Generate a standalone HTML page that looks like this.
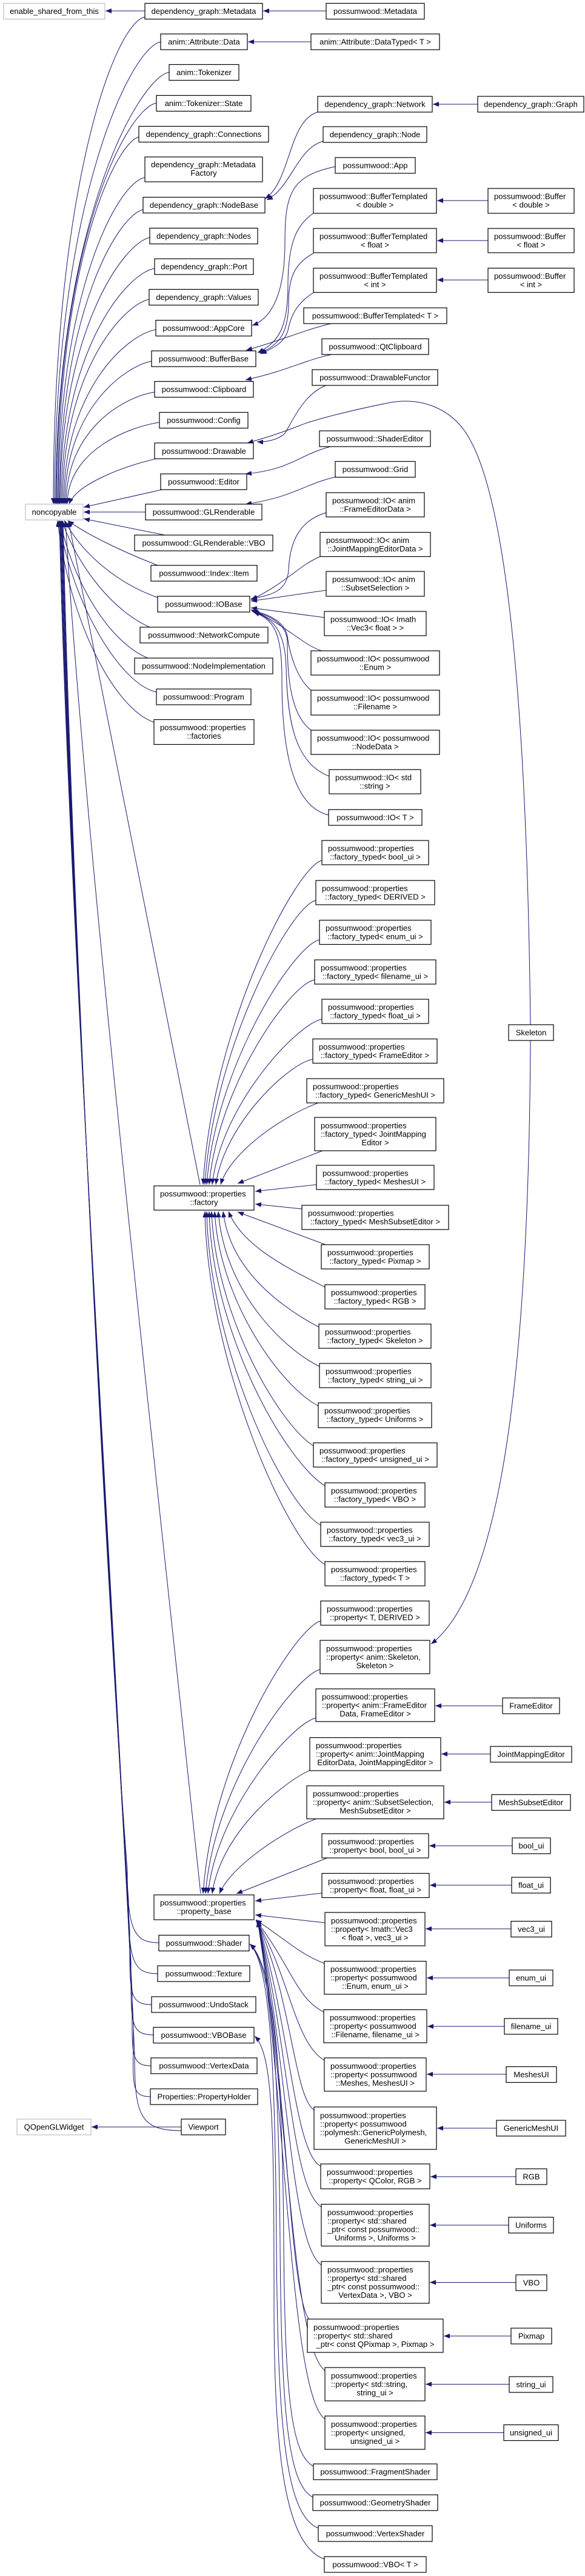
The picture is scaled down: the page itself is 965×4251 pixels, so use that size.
<!DOCTYPE html>
<html><head><meta charset="utf-8"><style>
html,body{margin:0;padding:0;background:#fff}
svg{display:block}
text{font-family:"Liberation Sans",Arial,sans-serif;font-size:13px;fill:#000}
.b rect{fill:#fff;stroke:#000;stroke-width:1.2}
.g rect{fill:#fff;stroke:#bfbfbf;stroke-width:1.2}
.c{text-anchor:middle}
.e path{fill:none;stroke:#191970;stroke-width:1}
</style></head><body>
<svg width="965" height="4251" viewBox="0 0 965 4251" xmlns="http://www.w3.org/2000/svg">
<defs><marker id="a" viewBox="0 0 10 8" refX="10" refY="4" markerWidth="10" markerHeight="8" markerUnits="userSpaceOnUse" orient="auto"><path d="M0,0L10,4L0,8z" fill="#191970"/></marker></defs>

<g class="e" marker-end="url(#a)">
<!-- top horizontal -->
<path d="M239,18L174,18"/><path d="M538,18L434,18"/><path d="M513,69L409,69"/><path d="M788,172L714,172"/>
<path d="M805,331L721,331"/><path d="M805,397L721,397"/><path d="M805,462L721,462"/>
<!-- to noncopyable above -->
<path d="M239,28 C189,38 88,311 88,832"/>
<path d="M265,69 C215,79 90,336 90,832"/>
<path d="M279,119 C229,129 92,369 92,832"/>
<path d="M258,170 C208,180 93,402 93,832"/>
<path d="M229,226 C190,236 95,435 95,832"/>
<path d="M239,293 C195,300 96,480 96,832"/>
<path d="M236,346 C195,355 98,515 98,832"/>
<path d="M247,392 C205,400 99,544 99,832"/>
<path d="M255,443 C210,450 101,577 101,832"/>
<path d="M246,494 C205,502 103,610 103,832"/>
<path d="M257,544 C210,552 105,643 105,832"/>
<path d="M250,596 C205,605 107,676 107,832"/>
<path d="M255,647 C205,655 109,708 109,832"/>
<path d="M263,697 C210,705 111,745 111,832"/>
<path d="M262,756 C200,770 125,800 114,832"/>
<path d="M272,807 L138,837"/>
<path d="M240,845 L138,845"/>
<path d="M272,883 L138,856"/>
<path d="M263,934 C200,910 140,880 112,859"/>
<path d="M260,986 C200,965 140,920 106,859"/>
<path d="M247,1035 C190,1010 130,940 102,859"/>
<path d="M244,1086 C180,1060 120,960 99,859"/>
<path d="M258,1142 C200,1130 120,1000 97,859"/>
<path d="M254,1192 C190,1170 115,1030 95,859"/>
<path d="M330,1955 L113,860"/>
<path d="M331,3125 C260,2450 140,1400 108,860"/>
<!-- lower bundle -->
<path d="M262,3206 C222,3206 210,3186 210,3086 C180,2700 118,1500 104,860"/>
<path d="M260,3257 C220,3257 212,3237 212,3137 C182,2700 117,1500 103,860"/>
<path d="M250,3308 C212,3308 214,3288 214,3188 C184,2700 116,1500 102,860"/>
<path d="M253,3358 C214,3358 216,3338 216,3238 C186,2700 115,1500 101,860"/>
<path d="M249,3409 C214,3409 218,3389 218,3289 C188,2700 114,1500 100,860"/>
<path d="M248,3460 C214,3460 220,3440 220,3340 C190,2700 113,1500 99,860"/>
<path d="M299,3516 C230,3516 222,3490 222,3390 C192,2700 112,1500 98,860"/>
<path d="M299,3510 L151,3510"/>
<!-- NodeBase, AppCore, BufferBase ... -->
<path d="M524,185 C475,200 480,300 437,328"/>
<path d="M533,233 C490,245 480,310 440,330"/>
<path d="M553,275 C480,290 470,320 470,400 C470,480 450,525 416,537"/>
<path d="M517,352 C490,370 475,400 475,470 C475,540 460,565 425,582"/>
<path d="M517,418 C485,435 476,460 476,500 C476,550 460,570 428,583"/>
<path d="M517,483 C490,500 480,520 475,545 C470,565 450,575 430,584"/>
<path d="M546,534 C500,545 470,560 406,578"/>
<path d="M547,585 C500,595 480,610 405,627"/>
<path d="M538,636 C500,650 480,700 470,715 C460,725 440,730 424,729"/>
<path d="M875,1691 C870,1250 845,850 775,725 C745,670 690,655 640,665 C580,677 520,692 495,702 C470,712 440,722 408,731"/>
<path d="M545,737 C490,752 480,775 405,782"/>
<path d="M553,787 C500,800 485,820 405,832"/>
<!-- IO -->
<path d="M538,846 C490,860 478,900 476,940 C474,975 450,982 414,988"/>
<path d="M529,918 C490,935 475,960 414,990"/>
<path d="M538,974 L414,992"/>
<path d="M535,1019 L414,1003"/>
<path d="M531,1074 C500,1065 470,1030 414,1006"/>
<path d="M513,1139 C490,1120 478,1080 474,1050 C470,1025 440,1012 415,1008"/>
<path d="M513,1205 C480,1180 474,1120 474,1060 C474,1030 445,1015 416,1009"/>
<path d="M543,1281 C490,1260 474,1200 472,1100 C470,1040 450,1020 417,1009"/>
<path d="M542,1345 C480,1330 465,1230 465,1120 C465,1040 450,1022 418,1010"/>
<!-- factory -->
<path d="M531,1420 C491,1427 350,1691 335,1955"/>
<path d="M521,1486 C481,1493 353,1724 338,1955"/>
<path d="M527,1551 C487,1558 356,1756 341,1955"/>
<path d="M519,1617 C479,1624 360,1790 345,1955"/>
<path d="M531,1682 C491,1689 365,1822 350,1955"/>
<path d="M516,1748 C476,1755 370,1855 356,1955"/>
<path d="M525,1820 C470,1840 380,1900 364,1955"/>
<path d="M532,1899 L392,1953"/>
<path d="M522,1955 L421,1966"/>
<path d="M498,1995 L421,1987"/>
<path d="M537,2054 L392,2000"/>
<path d="M536,2124 C490,2100 400,2060 377,1999"/>
<path d="M526,2190 C470,2160 380,2100 368,1999"/>
<path d="M527,2255 C466,2225 370,2130 360,1999"/>
<path d="M525,2320 C466,2290 362,2150 354,1999"/>
<path d="M517,2386 C460,2350 355,2170 349,1999"/>
<path d="M536,2452 C470,2410 350,2200 345,1999"/>
<path d="M529,2517 C465,2480 345,2220 341,1999"/>
<path d="M536,2582 C470,2540 342,2240 338,1999"/>
<!-- skeleton to property -->
<path d="M875,1717 C872,2300 820,2630 711,2713"/>
<!-- property_base -->
<path d="M529,2675 C489,2685 350,2900 335,3125"/>
<path d="M528,2755 C488,2765 354,2940 339,3125"/>
<path d="M521,2835 C481,2845 358,2985 343,3125"/>
<path d="M515,2920 C475,2935 365,3020 350,3125"/>
<path d="M523,3001 C470,3020 380,3080 362,3125"/>
<path d="M540,3066 L390,3125"/>
<path d="M531,3124 L421,3137"/>
<path d="M536,3173 L421,3160"/>
<path d="M535,3240 C495,3225 470,3200 422,3168"/>
<path d="M534,3320 C490,3300 478,3240 422,3169"/>
<path d="M535,3400 C485,3370 478,3260 423,3170"/>
<path d="M518,3482 C485,3460 482,3300 424,3170"/>
<path d="M529,3575 C485,3550 480,3350 425,3170"/>
<path d="M530,3642 C480,3610 478,3380 425,3170"/>
<path d="M530,3738 C478,3700 476,3400 425,3170"/>
<path d="M510,3828 C475,3780 475,3420 425,3170"/>
<path d="M536,3912 C480,3870 474,3440 425,3170"/>
<path d="M536,3992 C478,3950 472,3460 425,3170"/>
<!-- shader / vbobase -->
<path d="M517,4070 C480,4050 470,3950 468,3700 C466,3400 450,3240 412,3208"/>
<path d="M516,4121 C475,4100 464,3980 462,3700 C460,3400 448,3240 412,3208"/>
<path d="M525,4172 C470,4150 458,4000 456,3700 C454,3400 445,3240 412,3208"/>
<path d="M535,4223 C470,4200 452,4050 452,3800 C452,3500 450,3390 420,3360"/>
<!-- far right horizontals -->
<path d="M829,2815L718,2815"/><path d="M809,2894.5L728,2894.5"/><path d="M811,2974L733,2974"/>
<path d="M845,3046L708,3046"/><path d="M844,3111L709,3111"/><path d="M843,3183L702,3183"/>
<path d="M840,3264L704,3264"/><path d="M832,3344L705,3344"/><path d="M835,3423L704,3423"/>
<path d="M819,3512L721,3512"/><path d="M851,3592L710,3592"/><path d="M839,3672L709,3672"/>
<path d="M851,3766.5L709,3766.5"/><path d="M843,3855L732,3855"/><path d="M840,3934.5L702,3934.5"/>
<path d="M831,4014.5L702,4014.5"/>
</g>

<g class="g">
<rect x="6" y="5.5" width="167" height="26"/><text class="c" x="89.5" y="23">enable_shared_from_this</text>
<rect x="42" y="832" width="95" height="26"/><text class="c" x="89.5" y="849.5">noncopyable</text>
<rect x="28" y="3497" width="122" height="26"/><text class="c" x="89" y="3514.5">QOpenGLWidget</text>
</g>

<g class="b">
<rect x="239" y="5.5" width="194" height="26"/><text class="c" x="336" y="23">dependency_graph::Metadata</text>
<rect x="265" y="56" width="143" height="26"/><text class="c" x="336.5" y="73.5">anim::Attribute::Data</text>
<rect x="279" y="106.5" width="115" height="26"/><text class="c" x="336.5" y="124">anim::Tokenizer</text>
<rect x="258" y="157.5" width="156" height="26"/><text class="c" x="336" y="175">anim::Tokenizer::State</text>
<rect x="229" y="208.5" width="214" height="26"/><text class="c" x="336" y="226">dependency_graph::Connections</text>
<rect x="239" y="259" width="194" height="41"/><text x="249" y="276">dependency_graph::Metadata</text><text class="c" x="336" y="290">Factory</text>
<rect x="236" y="325.5" width="201" height="26"/><text class="c" x="336.5" y="343">dependency_graph::NodeBase</text>
<rect x="247" y="376.5" width="178" height="26"/><text class="c" x="336" y="394">dependency_graph::Nodes</text>
<rect x="255" y="427" width="163" height="26"/><text class="c" x="336.5" y="444.5">dependency_graph::Port</text>
<rect x="246" y="477.5" width="180" height="26"/><text class="c" x="336" y="495">dependency_graph::Values</text>
<rect x="257" y="528.5" width="158" height="26"/><text class="c" x="336" y="546">possumwood::AppCore</text>
<rect x="250" y="579" width="172" height="26"/><text class="c" x="336" y="596.5">possumwood::BufferBase</text>
<rect x="255" y="629.5" width="163" height="26"/><text class="c" x="336.5" y="647">possumwood::Clipboard</text>
<rect x="263" y="680.5" width="146" height="26"/><text class="c" x="336" y="698">possumwood::Config</text>
<rect x="255" y="731" width="163" height="26"/><text class="c" x="336.5" y="749">possumwood::Drawable</text>
<rect x="265" y="782" width="142" height="26"/><text class="c" x="336" y="799.5">possumwood::Editor</text>
<rect x="240" y="832" width="192" height="26"/><text class="c" x="336" y="849.5">possumwood::GLRenderable</text>
<rect x="222" y="883" width="228" height="26"/><text class="c" x="336" y="900.5">possumwood::GLRenderable::VBO</text>
<rect x="249" y="933" width="175" height="26"/><text class="c" x="336.5" y="950.5">possumwood::Index::Item</text>
<rect x="260" y="984" width="152" height="26"/><text class="c" x="336" y="1001.5">possumwood::IOBase</text>
<rect x="231" y="1035" width="211" height="26"/><text class="c" x="336.5" y="1052.5">possumwood::NetworkCompute</text>
<rect x="222" y="1086" width="228" height="26"/><text class="c" x="336" y="1103.5">possumwood::NodeImplementation</text>
<rect x="258" y="1137" width="156" height="26"/><text class="c" x="336" y="1154.5">possumwood::Program</text>
<rect x="254" y="1187.5" width="165" height="41"/><text x="264" y="1205">possumwood::properties</text><text class="c" x="336.5" y="1219">::factories</text>
<rect x="254" y="1957" width="165" height="40"/><text x="264" y="1974.5">possumwood::properties</text><text class="c" x="336.5" y="1988.5">::factory</text>
<rect x="254" y="3127" width="165" height="41"/><text x="264" y="3144.5">possumwood::properties</text><text class="c" x="336.5" y="3158.5">::property_base</text>
<rect x="262" y="3193.5" width="149" height="26"/><text class="c" x="336.5" y="3211">possumwood::Shader</text>
<rect x="260" y="3244" width="152" height="26"/><text class="c" x="336" y="3261.5">possumwood::Texture</text>
<rect x="250" y="3295" width="172" height="26"/><text class="c" x="336" y="3312.5">possumwood::UndoStack</text>
<rect x="253" y="3345.5" width="166" height="26"/><text class="c" x="336" y="3363">possumwood::VBOBase</text>
<rect x="249" y="3396" width="175" height="26"/><text class="c" x="336.5" y="3413.5">possumwood::VertexData</text>
<rect x="248" y="3447" width="177" height="26"/><text class="c" x="336.5" y="3464.5">Properties::PropertyHolder</text>
<rect x="299" y="3497" width="73" height="26"/><text class="c" x="335.5" y="3514.5">Viewport</text>

<rect x="538" y="5.5" width="162" height="26"/><text class="c" x="619" y="23">possumwood::Metadata</text>
<rect x="513" y="56" width="212" height="26"/><text class="c" x="619" y="73.5">anim::Attribute::DataTyped&lt; T &gt;</text>
<rect x="524" y="159" width="189" height="26"/><text class="c" x="618.5" y="176.5">dependency_graph::Network</text>
<rect x="788" y="159" width="175" height="26"/><text class="c" x="875.5" y="176.5">dependency_graph::Graph</text>
<rect x="533" y="209" width="171" height="26"/><text class="c" x="618.5" y="226.5">dependency_graph::Node</text>
<rect x="553" y="260" width="132" height="26"/><text class="c" x="619" y="277.5">possumwood::App</text>
<rect x="517" y="311" width="203" height="41"/><text x="527" y="328.5">possumwood::BufferTemplated</text><text class="c" x="618.5" y="342.5">&lt; double &gt;</text>
<rect x="805" y="311" width="142" height="41"/><text x="815" y="328.5">possumwood::Buffer</text><text class="c" x="876" y="342.5">&lt; double &gt;</text>
<rect x="517" y="377" width="203" height="40"/><text x="527" y="394.5">possumwood::BufferTemplated</text><text class="c" x="618.5" y="408.5">&lt; float &gt;</text>
<rect x="805" y="377" width="142" height="40"/><text x="815" y="394.5">possumwood::Buffer</text><text class="c" x="876" y="408.5">&lt; float &gt;</text>
<rect x="517" y="442.5" width="203" height="40"/><text x="527" y="460">possumwood::BufferTemplated</text><text class="c" x="618.5" y="474">&lt; int &gt;</text>
<rect x="805" y="442.5" width="142" height="40"/><text x="815" y="460">possumwood::Buffer</text><text class="c" x="876" y="474">&lt; int &gt;</text>
<rect x="501" y="508" width="236" height="26"/><text class="c" x="619" y="525.5">possumwood::BufferTemplated&lt; T &gt;</text>
<rect x="531" y="559" width="176" height="26"/><text class="c" x="619" y="576.5">possumwood::QtClipboard</text>
<rect x="515" y="610" width="207" height="26"/><text class="c" x="618.5" y="627.5">possumwood::DrawableFunctor</text>
<rect x="527" y="711" width="183" height="26"/><text class="c" x="618.5" y="728.5">possumwood::ShaderEditor</text>
<rect x="553" y="761.5" width="132" height="26"/><text class="c" x="619" y="779">possumwood::Grid</text>
<rect x="538" y="813" width="162" height="40"/><text x="548" y="830.5">possumwood::IO&lt; anim</text><text class="c" x="619" y="844.5">::FrameEditorData &gt;</text>
<rect x="528" y="878.5" width="182" height="40"/><text x="538" y="896">possumwood::IO&lt; anim</text><text class="c" x="619" y="910">::JointMappingEditorData &gt;</text>
<rect x="538" y="943" width="162" height="41"/><text x="548" y="960.5">possumwood::IO&lt; anim</text><text class="c" x="619" y="974.5">::SubsetSelection &gt;</text>
<rect x="535" y="1009" width="168" height="40"/><text x="545" y="1026.5">possumwood::IO&lt; Imath</text><text class="c" x="619" y="1040.5">::Vec3&lt; float &gt; &gt;</text>
<rect x="513" y="1074" width="212" height="40"/><text x="523" y="1091.5">possumwood::IO&lt; possumwood</text><text class="c" x="619" y="1105.5">::Enum &gt;</text>
<rect x="513" y="1139" width="212" height="41"/><text x="523" y="1156.5">possumwood::IO&lt; possumwood</text><text class="c" x="619" y="1170.5">::Filename &gt;</text>
<rect x="513" y="1205" width="212" height="40"/><text x="523" y="1222.5">possumwood::IO&lt; possumwood</text><text class="c" x="619" y="1236.5">::NodeData &gt;</text>
<rect x="543" y="1270" width="151" height="40"/><text x="553" y="1287.5">possumwood::IO&lt; std</text><text class="c" x="618.5" y="1301.5">::string &gt;</text>
<rect x="542" y="1336" width="154" height="26"/><text class="c" x="619" y="1353.5">possumwood::IO&lt; T &gt;</text>

<rect x="531" y="1387" width="176" height="40"/><text x="541" y="1404.5">possumwood::properties</text><text class="c" x="619" y="1418.5">::factory_typed&lt; bool_ui &gt;</text>
<rect x="521" y="1453" width="196" height="40"/><text x="531" y="1470.5">possumwood::properties</text><text class="c" x="619" y="1484.5">::factory_typed&lt; DERIVED &gt;</text>
<rect x="527" y="1518.5" width="184" height="40"/><text x="537" y="1536">possumwood::properties</text><text class="c" x="619" y="1550">::factory_typed&lt; enum_ui &gt;</text>
<rect x="519" y="1584" width="200" height="40"/><text x="529" y="1601.5">possumwood::properties</text><text class="c" x="619" y="1615.5">::factory_typed&lt; filename_ui &gt;</text>
<rect x="531" y="1649" width="176" height="40"/><text x="541" y="1666.5">possumwood::properties</text><text class="c" x="619" y="1680.5">::factory_typed&lt; float_ui &gt;</text>
<rect x="516" y="1714.5" width="205" height="40"/><text x="526" y="1732">possumwood::properties</text><text class="c" x="618.5" y="1746">::factory_typed&lt; FrameEditor &gt;</text>
<rect x="506" y="1780" width="226" height="40"/><text x="516" y="1797.5">possumwood::properties</text><text class="c" x="619" y="1811.5">::factory_typed&lt; GenericMeshUI &gt;</text>
<rect x="519" y="1844" width="200" height="55"/><text x="529" y="1862">possumwood::properties</text><text x="529" y="1876">::factory_typed&lt; JointMapping</text><text class="c" x="619" y="1890">Editor &gt;</text>
<rect x="522" y="1923" width="194" height="40"/><text x="532" y="1940.5">possumwood::properties</text><text class="c" x="619" y="1954.5">::factory_typed&lt; MeshesUI &gt;</text>
<rect x="498" y="1989" width="242" height="40"/><text x="508" y="2006.5">possumwood::properties</text><text class="c" x="619" y="2020.5">::factory_typed&lt; MeshSubsetEditor &gt;</text>
<rect x="530" y="2054" width="178" height="40"/><text x="540" y="2071.5">possumwood::properties</text><text class="c" x="619" y="2085.5">::factory_typed&lt; Pixmap &gt;</text>
<rect x="536" y="2120" width="165" height="40"/><text x="546" y="2137.5">possumwood::properties</text><text class="c" x="618.5" y="2151.5">::factory_typed&lt; RGB &gt;</text>
<rect x="526" y="2185" width="185" height="40"/><text x="536" y="2202.5">possumwood::properties</text><text class="c" x="618.5" y="2216.5">::factory_typed&lt; Skeleton &gt;</text>
<rect x="527" y="2250" width="184" height="40"/><text x="537" y="2267.5">possumwood::properties</text><text class="c" x="619" y="2281.5">::factory_typed&lt; string_ui &gt;</text>
<rect x="525" y="2315" width="187" height="41"/><text x="535" y="2332.5">possumwood::properties</text><text class="c" x="618.5" y="2346.5">::factory_typed&lt; Uniforms &gt;</text>
<rect x="517" y="2381" width="204" height="40"/><text x="527" y="2398.5">possumwood::properties</text><text class="c" x="619" y="2412.5">::factory_typed&lt; unsigned_ui &gt;</text>
<rect x="536" y="2447" width="165" height="40"/><text x="546" y="2464.5">possumwood::properties</text><text class="c" x="618.5" y="2478.5">::factory_typed&lt; VBO &gt;</text>
<rect x="529" y="2512" width="179" height="40"/><text x="539" y="2529.5">possumwood::properties</text><text class="c" x="618.5" y="2543.5">::factory_typed&lt; vec3_ui &gt;</text>
<rect x="536" y="2577" width="165" height="40"/><text x="546" y="2594.5">possumwood::properties</text><text class="c" x="618.5" y="2608.5">::factory_typed&lt; T &gt;</text>

<rect x="839" y="1691" width="74" height="26"/><text class="c" x="876" y="1708.5">Skeleton</text>

<rect x="529" y="2642" width="179" height="40"/><text x="539" y="2659.5">possumwood::properties</text><text class="c" x="618.5" y="2673.5">::property&lt; T, DERIVED &gt;</text>
<rect x="528" y="2707" width="181" height="55"/><text x="538" y="2725">possumwood::properties</text><text x="538" y="2739">::property&lt; anim::Skeleton,</text><text class="c" x="618.5" y="2753">Skeleton &gt;</text>
<rect x="521" y="2787" width="196" height="54"/><text x="531" y="2804.5">possumwood::properties</text><text x="531" y="2818.5">::property&lt; anim::FrameEditor</text><text class="c" x="619" y="2832.5">Data, FrameEditor &gt;</text>
<rect x="511" y="2867.5" width="216" height="54.5"/><text x="521" y="2885">possumwood::properties</text><text x="521" y="2899">::property&lt; anim::JointMapping</text><text class="c" x="619" y="2913">EditorData, JointMappingEditor &gt;</text>
<rect x="506" y="2947" width="226" height="54.5"/><text x="516" y="2964.5">possumwood::properties</text><text x="516" y="2978.5">::property&lt; anim::SubsetSelection,</text><text class="c" x="619" y="2992.5">MeshSubsetEditor &gt;</text>
<rect x="531" y="3026" width="176" height="40"/><text x="541" y="3043.5">possumwood::properties</text><text class="c" x="619" y="3057.5">::property&lt; bool, bool_ui &gt;</text>
<rect x="531" y="3091.5" width="177" height="40"/><text x="541" y="3109">possumwood::properties</text><text class="c" x="619.5" y="3123">::property&lt; float, float_ui &gt;</text>
<rect x="536" y="3156" width="165" height="55"/><text x="546" y="3174">possumwood::properties</text><text x="546" y="3188">::property&lt; Imath::Vec3</text><text class="c" x="618.5" y="3202">&lt; float &gt;, vec3_ui &gt;</text>
<rect x="535" y="3236.5" width="168" height="54.5"/><text x="545" y="3254">possumwood::properties</text><text x="545" y="3268">::property&lt; possumwood</text><text class="c" x="619" y="3282">::Enum, enum_ui &gt;</text>
<rect x="534" y="3316.5" width="170" height="54.5"/><text x="544" y="3334">possumwood::properties</text><text x="544" y="3348">::property&lt; possumwood</text><text class="c" x="619" y="3362">::Filename, filename_ui &gt;</text>
<rect x="535" y="3396" width="168" height="55"/><text x="545" y="3414">possumwood::properties</text><text x="545" y="3428">::property&lt; possumwood</text><text class="c" x="619" y="3442">::Meshes, MeshesUI &gt;</text>
<rect x="518" y="3477" width="202" height="70"/><text x="528" y="3495.5">possumwood::properties</text><text x="528" y="3509.5">::property&lt; possumwood</text><text x="528" y="3523.5">::polymesh::GenericPolymesh,</text><text class="c" x="619" y="3537.5">GenericMeshUI &gt;</text>
<rect x="529" y="3571" width="180" height="41"/><text x="539" y="3589">possumwood::properties</text><text class="c" x="619" y="3603">::property&lt; QColor, RGB &gt;</text>
<rect x="530" y="3637.5" width="178" height="69"/><text x="540" y="3655.5">possumwood::properties</text><text x="540" y="3669.5">::property&lt; std::shared</text><text x="540" y="3683.5">_ptr&lt; const possumwood::</text><text class="c" x="619" y="3697.5">Uniforms &gt;, Uniforms &gt;</text>
<rect x="530" y="3732" width="178" height="69"/><text x="540" y="3750">possumwood::properties</text><text x="540" y="3764">::property&lt; std::shared</text><text x="540" y="3778">_ptr&lt; const possumwood::</text><text class="c" x="619" y="3792">VertexData &gt;, VBO &gt;</text>
<rect x="507" y="3827" width="224" height="55"/><text x="517" y="3845">possumwood::properties</text><text x="517" y="3859">::property&lt; std::shared</text><text class="c" x="619" y="3873">_ptr&lt; const QPixmap &gt;, Pixmap &gt;</text>
<rect x="536" y="3907" width="165" height="55"/><text x="546" y="3925">possumwood::properties</text><text x="546" y="3939">::property&lt; std::string,</text><text class="c" x="618.5" y="3953">string_ui &gt;</text>
<rect x="536" y="3987" width="165" height="55"/><text x="546" y="4005">possumwood::properties</text><text x="546" y="4019">::property&lt; unsigned,</text><text class="c" x="618.5" y="4033">unsigned_ui &gt;</text>
<rect x="517" y="4066" width="204" height="26"/><text class="c" x="619" y="4083.5">possumwood::FragmentShader</text>
<rect x="516" y="4117" width="206" height="26"/><text class="c" x="619" y="4134.5">possumwood::GeometryShader</text>
<rect x="525" y="4168" width="188" height="26"/><text class="c" x="619" y="4185.5">possumwood::VertexShader</text>
<rect x="535" y="4219" width="168" height="26"/><text class="c" x="619" y="4236.5">possumwood::VBO&lt; T &gt;</text>

<rect x="829" y="2802" width="94" height="26"/><text class="c" x="876" y="2819.5">FrameEditor</text>
<rect x="809" y="2882" width="134" height="26"/><text class="c" x="876" y="2899.5">JointMappingEditor</text>
<rect x="811" y="2961.5" width="130" height="26"/><text class="c" x="876" y="2979">MeshSubsetEditor</text>
<rect x="845" y="3033" width="63" height="26"/><text class="c" x="876.5" y="3050.5">bool_ui</text>
<rect x="844" y="3098" width="64" height="26"/><text class="c" x="876" y="3115.5">float_ui</text>
<rect x="843" y="3170.5" width="67" height="26"/><text class="c" x="876.5" y="3188">vec3_ui</text>
<rect x="840" y="3251" width="72" height="26"/><text class="c" x="876" y="3268.5">enum_ui</text>
<rect x="832" y="3331" width="88" height="26"/><text class="c" x="876" y="3348.5">filename_ui</text>
<rect x="835" y="3410.5" width="83" height="26"/><text class="c" x="876.5" y="3428">MeshesUI</text>
<rect x="819" y="3499" width="114" height="26"/><text class="c" x="876" y="3516.5">GenericMeshUI</text>
<rect x="851" y="3579" width="51" height="26"/><text class="c" x="876.5" y="3596.5">RGB</text>
<rect x="839" y="3659" width="74" height="26"/><text class="c" x="876" y="3676.5">Uniforms</text>
<rect x="851" y="3754" width="51" height="26"/><text class="c" x="876.5" y="3771.5">VBO</text>
<rect x="843" y="3842" width="67" height="26"/><text class="c" x="876.5" y="3859.5">Pixmap</text>
<rect x="840" y="3922" width="72" height="26"/><text class="c" x="876" y="3939.5">string_ui</text>
<rect x="831" y="4001.5" width="90" height="26"/><text class="c" x="876" y="4019">unsigned_ui</text>
</g>
</svg>
</body></html>
